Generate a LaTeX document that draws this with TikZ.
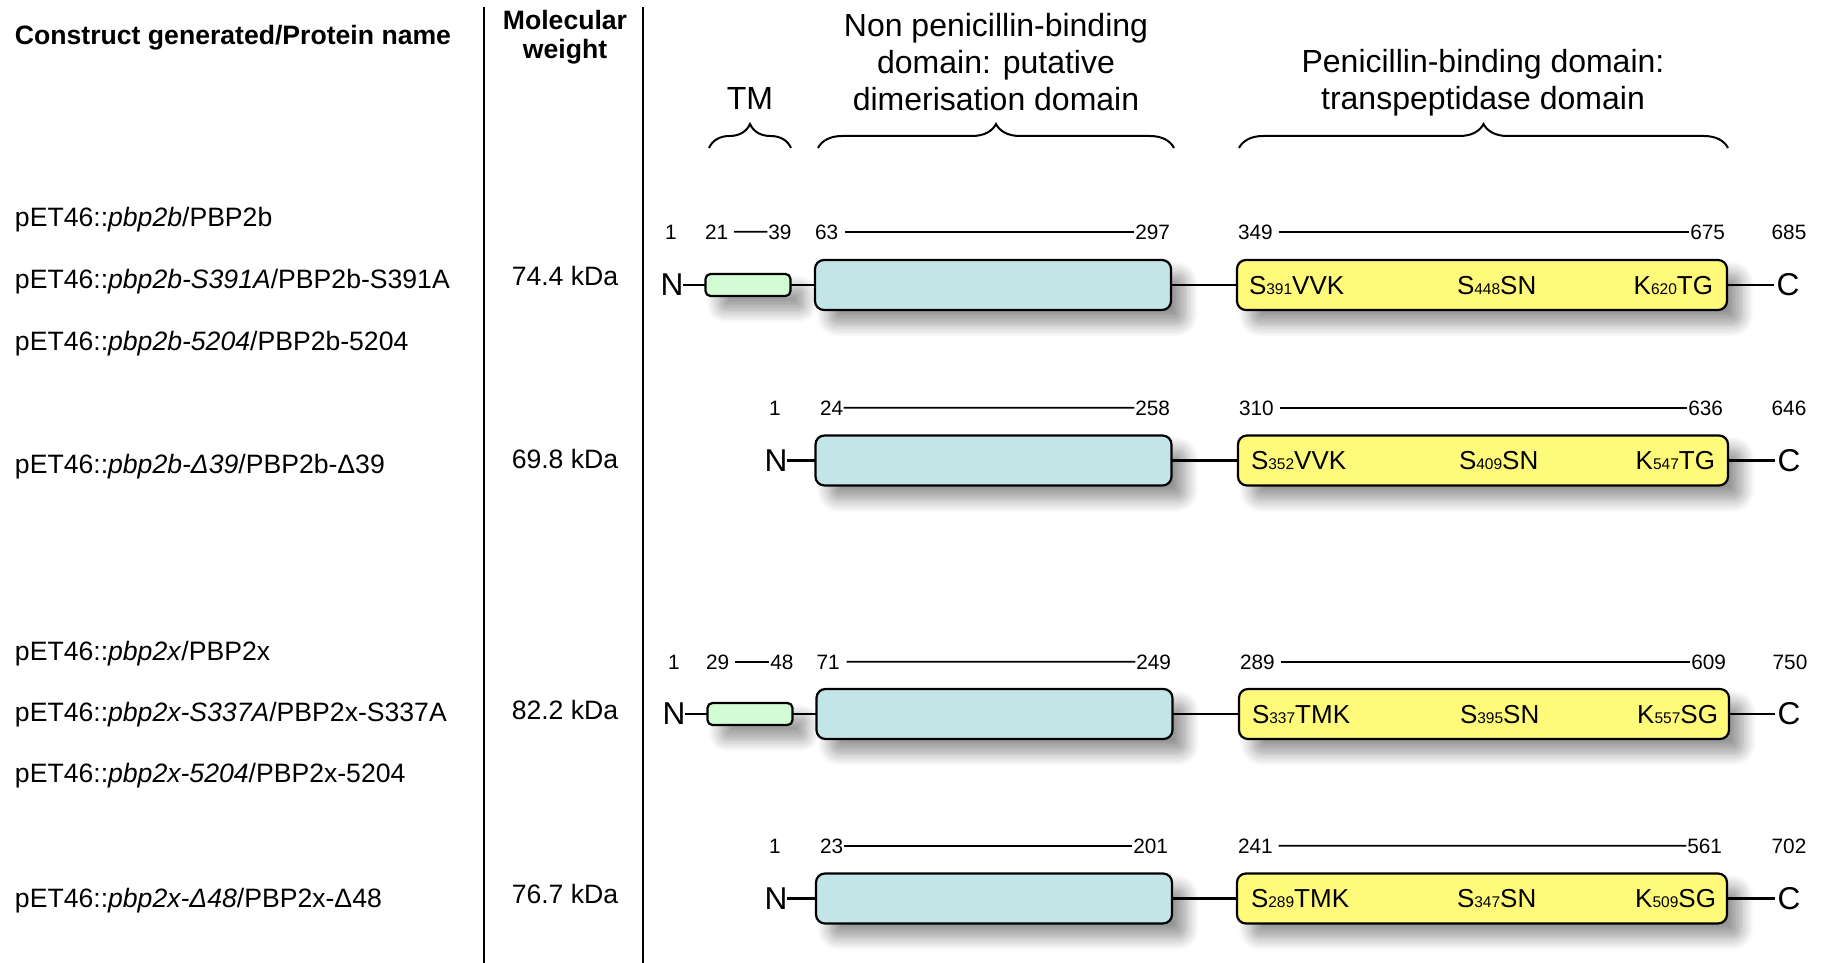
\documentclass[tikz,border=0pt]{standalone}
\usepackage{fontspec}
\setmainfont{Liberation Sans}
\usetikzlibrary{shadows.blur,decorations.pathreplacing}

\definecolor{tmgreen}{RGB}{212,252,212}
\definecolor{npblue}{RGB}{196,229,232}
\definecolor{tpyellow}{RGB}{255,250,122}

% residue numbers of the active-site motifs, small and on the baseline
\newcommand\resno[1]{{\fontsize{7.75}{9}\selectfont #1}}

\begin{document}
\begin{tikzpicture}[x=0.5pt,y=-0.5pt,
  every node/.style={inner sep=0pt, outer sep=0pt},
  hdr/.style={font=\bfseries\fontsize{13.3}{14}\selectfont},
  rowlab/.style={font=\fontsize{13.3}{16}\selectfont, anchor=base west},
  mwlab/.style={font=\fontsize{13.3}{16}\selectfont, anchor=base},
  domlab/.style={font=\fontsize{16}{18.5}\selectfont, align=center},
  posnum/.style={font=\fontsize{10.4}{12}\selectfont, anchor=base},
  posl/.style={posnum, anchor=base west},
  posr/.style={posnum, anchor=base east},
  endlab/.style={font=\fontsize{15.8}{18}\selectfont},
  motif/.style={font=\fontsize{13}{15}\selectfont},
  colrule/.style={line width=1pt},
  chain/.style={line width=1.1pt},
  spanline/.style={line width=0.9pt},
  dombox/.style={draw, line width=1.1pt,
    blur shadow={shadow xshift=7pt, shadow yshift=-7pt, shadow blur radius=6.5pt, shadow opacity=42, shadow blur steps=10}},
  tmbox/.style={dombox, fill=tmgreen, rounded corners=2.5pt, minimum width=42.5pt, minimum height=11pt},
  npbox/.style={dombox, fill=npblue, rounded corners=4.5pt, minimum width=178pt, minimum height=25pt},
  tpbox/.style={dombox, fill=tpyellow, rounded corners=4.5pt, minimum width=245pt, minimum height=25pt},
  bracepath/.style={line width=1pt, decorate, decoration={brace, amplitude=12pt}},
]
\useasboundingbox (0,0) rectangle (1827,963);

% ---------- table header and column rules ----------
\node[hdr, anchor=base west] (hcon) at (15,44.5) {Construct generated/Protein name};
\node[hdr, anchor=base] (hmw1) at (565,30) {Molecular};
\node[hdr, anchor=base] (hmw2) at (565,59) {weight};
\draw[colrule] (483.5,7) -- (483.5,963);
\draw[colrule] (643,7) -- (643,963);

% ---------- domain headings with braces ----------
\node[domlab, anchor=base] (htm) at (750,110) {TM};
\node[domlab, anchor=north] (hnp) at (996,13.3) {Non penicillin-binding\\domain: putative\\dimerisation domain};
\node[domlab, anchor=north] (htp) at (1483,49.5) {Penicillin-binding domain:\\transpeptidase domain};
\draw[bracepath] (709,148) -- (791,148);
\draw[bracepath] (818,148) -- (1174,148);
\draw[bracepath] (1239,148) -- (1728,148);

% ---------- PBP2b ----------
\node[rowlab] (l1a) at (15,227) {pET46::\textit{pbp2b}/PBP2b};
\node[rowlab] (l1b) at (15,288) {pET46::\textit{pbp2b-S391A}/PBP2b-S391A};
\node[rowlab] (l1c) at (15,350) {pET46::\textit{pbp2b-5204}/PBP2b-5204};
\node[mwlab] (w1) at (565,285.5) {74.4 kDa};

\node[posnum] (p1a) at (671,239) {1};
\node[posl] (p1b) at (705,239) {21};
\node[posr] (p1c) at (791.5,239) {39};
\node[posl] (p1d) at (815,239) {63};
\node[posr] (p1e) at (1170,239) {297};
\node[posl] (p1f) at (1238,239) {349};
\node[posr] (p1g) at (1725,239) {675};
\node[posnum] (p1h) at (1789,239) {685};
\draw[spanline, shorten <=3pt, shorten >=0.5pt] (p1b.east) -- (p1c.west);
\draw[spanline, shorten <=3.5pt, shorten >=0.5pt] (p1d.east) -- (p1e.west);
\draw[spanline, shorten <=3pt, shorten >=0.5pt] (p1f.east) -- (p1g.west);

\node[endlab] (n1) at (672,285) {N};
\node[tmbox] (tm1) at (748,285) {};
\node[npbox] (np1) at (993,285) {};
\node[tpbox] (tp1) at (1482,285) {};
\node[endlab] (c1) at (1788,285) {C};
\draw[chain] (n1.east) -- (tm1.west);
\draw[chain] (tm1.east) -- (np1.west);
\draw[chain] (np1.east) -- (tp1.west);
\draw[chain, shorten >=1.2pt] (tp1.east) -- (c1.west);
\node[motif, anchor=base west] (m1a) at (1249,294.3) {S\resno{391}VVK};
\node[motif, anchor=base west] (m1b) at (1457,294.3) {S\resno{448}SN};
\node[motif, anchor=base east] (m1c) at (1713,294.3) {K\resno{620}TG};

% ---------- PBP2b-Delta39 ----------
\node[rowlab] (l2a) at (15,473) {pET46::\textit{pbp2b-Δ39}/PBP2b-Δ39};
\node[mwlab] (w2) at (565,468.5) {69.8 kDa};

\node[posnum] (p2a) at (775,415) {1};
\node[posl] (p2b) at (820,415) {24};
\node[posr] (p2c) at (1170,415) {258};
\node[posl] (p2d) at (1239,415) {310};
\node[posr] (p2e) at (1723,415) {636};
\node[posnum] (p2f) at (1789,415) {646};
\draw[spanline, shorten <=0.3pt, shorten >=0.5pt] (p2b.east) -- (p2c.west);
\draw[spanline, shorten <=3pt, shorten >=0.5pt] (p2d.east) -- (p2e.west);

\node[endlab] (n2) at (776,460.5) {N};
\node[npbox] (np2) at (993.5,460.5) {};
\node[tpbox] (tp2) at (1483,460.5) {};
\node[endlab] (c2) at (1789,460.5) {C};
\draw[chain] (n2.east) -- (np2.west);
\draw[chain] (np2.east) -- (tp2.west);
\draw[chain, shorten >=1.2pt] (tp2.east) -- (c2.west);
\node[motif, anchor=base west] (m2a) at (1251,469.8) {S\resno{352}VVK};
\node[motif, anchor=base west] (m2b) at (1459,469.8) {S\resno{409}SN};
\node[motif, anchor=base east] (m2c) at (1715,469.8) {K\resno{547}TG};

% ---------- PBP2x ----------
\node[rowlab] (l3a) at (15,660) {pET46::\textit{pbp2x}/PBP2x};
\node[rowlab] (l3b) at (15,721) {pET46::\textit{pbp2x-S337A}/PBP2x-S337A};
\node[rowlab] (l3c) at (15,782) {pET46::\textit{pbp2x-5204}/PBP2x-5204};
\node[mwlab] (w3) at (565,719.5) {82.2 kDa};

\node[posnum] (p3a) at (674,669) {1};
\node[posl] (p3b) at (706,669) {29};
\node[posr] (p3c) at (793.5,669) {48};
\node[posl] (p3d) at (816.5,669) {71};
\node[posr] (p3e) at (1171,669) {249};
\node[posl] (p3f) at (1240,669) {289};
\node[posr] (p3g) at (1726,669) {609};
\node[posnum] (p3h) at (1790,669) {750};
\draw[spanline, shorten <=3pt, shorten >=0.5pt] (p3b.east) -- (p3c.west);
\draw[spanline, shorten <=3.5pt, shorten >=0.5pt] (p3d.east) -- (p3e.west);
\draw[spanline, shorten <=3pt, shorten >=0.5pt] (p3f.east) -- (p3g.west);

\node[endlab] (n3) at (674,714) {N};
\node[tmbox] (tm3) at (750,714) {};
\node[npbox] (np3) at (994.5,714) {};
\node[tpbox] (tp3) at (1484,714) {};
\node[endlab] (c3) at (1789,714) {C};
\draw[chain] (n3.east) -- (tm3.west);
\draw[chain] (tm3.east) -- (np3.west);
\draw[chain] (np3.east) -- (tp3.west);
\draw[chain, shorten >=1.2pt] (tp3.east) -- (c3.west);
\node[motif, anchor=base west] (m3a) at (1252,723.3) {S\resno{337}TMK};
\node[motif, anchor=base west] (m3b) at (1460,723.3) {S\resno{395}SN};
\node[motif, anchor=base east] (m3c) at (1718,723.3) {K\resno{557}SG};

% ---------- PBP2x-Delta48 ----------
\node[rowlab] (l4a) at (15,907) {pET46::\textit{pbp2x-Δ48}/PBP2x-Δ48};
\node[mwlab] (w4) at (565,903.5) {76.7 kDa};

\node[posnum] (p4a) at (775,853) {1};
\node[posl] (p4b) at (820,853) {23};
\node[posr] (p4c) at (1168,853) {201};
\node[posl] (p4d) at (1238,853) {241};
\node[posr] (p4e) at (1722,853) {561};
\node[posnum] (p4f) at (1789,853) {702};
\draw[spanline, shorten <=0.3pt, shorten >=0.5pt] (p4b.east) -- (p4c.west);
\draw[spanline, shorten <=3pt, shorten >=0.5pt] (p4d.east) -- (p4e.west);

\node[endlab] (n4) at (776,898.5) {N};
\node[npbox] (np4) at (994,898.5) {};
\node[tpbox] (tp4) at (1482,898.5) {};
\node[endlab] (c4) at (1789,898.5) {C};
\draw[chain] (n4.east) -- (np4.west);
\draw[chain] (np4.east) -- (tp4.west);
\draw[chain, shorten >=1.2pt] (tp4.east) -- (c4.west);
\node[motif, anchor=base west] (m4a) at (1251,907.8) {S\resno{289}TMK};
\node[motif, anchor=base west] (m4b) at (1457,907.8) {S\resno{347}SN};
\node[motif, anchor=base east] (m4c) at (1716,907.8) {K\resno{509}SG};
\end{tikzpicture}
\end{document}
